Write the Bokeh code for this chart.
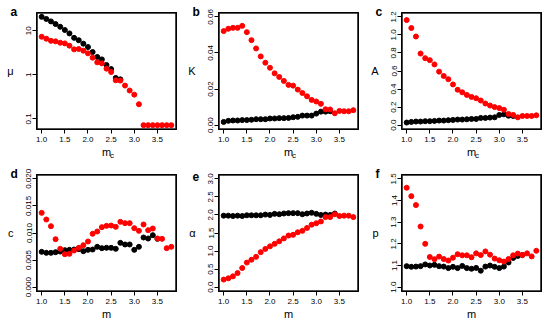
import math
from bokeh.plotting import figure
from bokeh.layouts import column, row
from bokeh.models import (Range1d, FixedTicker, PrintfTickFormatter,
                          LinearAxis, Title)
from bokeh.embed import file_html
from bokeh.resources import INLINE

# ---------------- data ----------------
M = [1.0, 1.1, 1.2, 1.3, 1.4, 1.5, 1.6, 1.7, 1.8, 1.9, 2.0, 2.1, 2.2, 2.3, 2.4,
     2.5, 2.6, 2.7, 2.8, 2.9, 3.0, 3.1, 3.2, 3.3, 3.4, 3.5, 3.6, 3.7, 3.8]

mu_black = [20.7, 18.5, 16.3, 14.2, 12.3, 10.4, 8.7, 6.9, 6.1, 5.1, 4.27, 3.29,
            2.54, 2.24, 1.67, 1.35, 0.85, 0.79]
mu_red = [7.3, 6.6, 5.9, 5.75, 5.35, 5.17, 4.58, 3.78, 3.85, 3.53, 3.07, 2.45,
          1.92, 1.82, 1.38, 1.16, 0.75, 0.74, 0.57, 0.44, 0.355, 0.215,
          0.072, 0.072, 0.072, 0.072, 0.072, 0.072, 0.072]

K_black = [0.0018, 0.0024, 0.0026, 0.0026, 0.0028, 0.0028, 0.0030, 0.0033, 0.0033,
           0.0033, 0.0037, 0.0037, 0.0039, 0.0039, 0.0040, 0.0044, 0.0046, 0.0053,
           0.0053, 0.0053, 0.0064, 0.0075, 0.0075, 0.0077]
K_red = [0.0521, 0.0534, 0.0539, 0.0539, 0.0550, 0.0515, 0.0471, 0.0425, 0.0381,
         0.0346, 0.0318, 0.0287, 0.0267, 0.0245, 0.0223, 0.0219, 0.0197, 0.0178,
         0.0160, 0.0140, 0.0131, 0.0118, 0.0088, 0.0087, 0.0066, 0.0079, 0.0077,
         0.0077, 0.0083]

A_black = [0.029, 0.036, 0.040, 0.040, 0.044, 0.044, 0.047, 0.051, 0.051, 0.055,
           0.058, 0.062, 0.062, 0.065, 0.069, 0.069, 0.080, 0.080, 0.084, 0.087,
           0.113, 0.120, 0.105, 0.102]
A_red = [1.164, 1.076, 0.982, 0.793, 0.742, 0.720, 0.673, 0.593, 0.545, 0.509,
         0.451, 0.393, 0.364, 0.335, 0.313, 0.298, 0.273, 0.240, 0.218, 0.200,
         0.189, 0.171, 0.124, 0.113, 0.087, 0.102, 0.102, 0.102, 0.109]

c_black = [0.00652, 0.00634, 0.00634, 0.00646, 0.00658, 0.00683, 0.00689, 0.00695,
           0.00702, 0.00665, 0.00689, 0.00695, 0.00745, 0.00720, 0.00726, 0.00726,
           0.00708, 0.00818, 0.00788, 0.00788, 0.00689, 0.00745, 0.00917, 0.00898,
           0.00960, 0.00892]
c_red = [0.01372, 0.01249, 0.01126, 0.00886, 0.00708, 0.00609, 0.00615, 0.00677,
         0.00726, 0.00775, 0.00843, 0.00985, 0.01028, 0.01108, 0.01132, 0.01138,
         0.01114, 0.01206, 0.01182, 0.01182, 0.01089, 0.01040, 0.01157, 0.01052,
         0.01083, 0.00898, 0.00892, 0.00720, 0.00745]

alpha_black = [1.98, 1.98, 1.97, 1.98, 1.97, 1.99, 1.99, 1.99, 1.99, 2.01, 2.00,
               2.03, 2.02, 2.04, 2.05, 2.05, 2.05, 2.02, 2.04, 2.06, 2.03, 2.00,
               2.01, 2.00, 2.04]
alpha_red = [0.21, 0.245, 0.30, 0.39, 0.53, 0.68, 0.76, 0.84, 0.97, 1.06, 1.13,
             1.20, 1.27, 1.35, 1.43, 1.45, 1.52, 1.56, 1.64, 1.73, 1.77, 1.82,
             1.94, 1.94, 2.02, 1.97, 1.98, 1.98, 1.94]

p_black = [1.097, 1.094, 1.095, 1.097, 1.105, 1.100, 1.103, 1.097, 1.095, 1.088,
           1.094, 1.088, 1.098, 1.088, 1.085, 1.089, 1.076, 1.095, 1.100, 1.094,
           1.088, 1.095, 1.114, 1.135, 1.144, 1.148]
p_red = [1.459, 1.420, 1.379, 1.280, 1.200, 1.139, 1.129, 1.141, 1.130, 1.123,
         1.136, 1.152, 1.147, 1.147, 1.138, 1.156, 1.148, 1.165, 1.150, 1.132,
         1.124, 1.118, 1.130, 1.147, 1.155, 1.148, 1.156, 1.142, 1.168]

X_TICKS = [1.0, 1.5, 2.0, 2.5, 3.0, 3.5]

# ---------------- layout constants ----------------
FONT = "Liberation Sans"
COL_W = [183, 183, 182]
COL_L = [36, 35, 35]
COL_R = [7, 8, 7]
ROW_H = [160, 162]
ROW_T = [12, 14]
ROW_B = [31, 31]
FRAME_W = 140


def r_range(vals):
    lo, hi = min(vals), max(vals)
    d = (hi - lo) * 0.04
    return lo - d, hi + d


X0, X1 = r_range(M)


def style_axis(ax):
    ax.axis_line_color = "black"
    ax.axis_line_width = 1
    ax.major_tick_in = 0
    ax.major_tick_out = 4
    ax.major_tick_line_color = "black"
    ax.major_tick_line_width = 1
    ax.minor_tick_line_color = None
    ax.major_label_text_font = FONT
    ax.major_label_text_font_size = "8px"
    ax.major_label_text_color = "black"
    ax.axis_label_text_font = FONT
    ax.axis_label_text_font_size = "11px"
    ax.axis_label_text_font_style = "normal"
    ax.axis_label_text_color = "black"


def box_axis(p, side):
    ax = LinearAxis(ticker=FixedTicker(ticks=[]), axis_line_color="black",
                    major_tick_out=0, major_tick_in=0, minor_tick_out=0,
                    minor_tick_in=0, major_label_standoff=0,
                    major_label_text_font_size="0px")
    p.add_layout(ax, side)


def panel(ci, ri, letter, ylab, sub, black, red, yr, yticks, yfmt=None,
          yover=None, log=False):
    if log:
        lo, hi = r_range([math.log10(v) for v in black + red])
        yrng = Range1d(10 ** lo, 10 ** hi)
    else:
        yrng = Range1d(*yr)
    p = figure(width=COL_W[ci], height=ROW_H[ri],
               x_range=Range1d(X0, X1), y_range=yrng,
               y_axis_type="log" if log else "linear",
               toolbar_location=None, output_backend="svg",
               min_border_left=COL_L[ci], min_border_right=COL_R[ci],
               min_border_top=ROW_T[ri], min_border_bottom=ROW_B[ri])
    p.background_fill_color = "white"
    p.border_fill_color = "white"
    p.outline_line_color = "black"
    p.grid.visible = False
    xa, ya = p.xaxis[0], p.yaxis[0]
    style_axis(xa)
    style_axis(ya)
    xa.ticker = FixedTicker(ticks=X_TICKS)
    xa.formatter = PrintfTickFormatter(format="%.1f")
    xa.major_label_standoff = 3
    if not sub:
        xa.axis_label = "m"
        xa.axis_label_standoff = 1
    ya.ticker = FixedTicker(ticks=yticks)
    if yfmt:
        ya.formatter = PrintfTickFormatter(format=yfmt)
    if yover:
        ya.major_label_overrides = yover
    ya.major_label_orientation = "vertical"
    ya.major_label_standoff = 1
    ya.axis_label = ylab
    ya.axis_label_standoff = 10
    if "axis_label_orientation" in ya.properties():
        ya.axis_label_orientation = "horizontal"
    box_axis(p, "above")
    box_axis(p, "right")

    # plot-region box, drawn from the range limits
    p.quad(left=[X0], right=[X1], bottom=[yrng.start], top=[yrng.end],
           fill_color=None, line_color="#1a1a1a", line_width=2.6)

    p.scatter(M[:len(black)], black, size=5, color="black", marker="circle")
    p.scatter(M[:len(red)], red, size=5, color="red", marker="circle")

    t = Title(text=letter, align="left", offset=-26, standoff=-12,
              text_font=FONT, text_font_size="12px", text_font_style="bold",
              text_color="black", vertical_align="bottom")
    p.add_layout(t, "above")
    if sub:
        tm = Title(text="m", align="center", standoff=-2,
                   text_font=FONT, text_font_size="11px",
                   text_font_style="normal", text_color="black",
                   vertical_align="bottom")
        p.add_layout(tm, "below")
        tc = Title(text="c", align="left", offset=FRAME_W / 2 + 3.5,
                   standoff=-10.8, text_font=FONT, text_font_size="8px",
                   text_font_style="normal", text_color="black",
                   vertical_align="top")
        p.add_layout(tc, "below")
    return p


pa = panel(0, 0, "a", "μ", True, mu_black, mu_red, None, [0.1, 1, 10],
           yover={0.1: "0.1", 1: "1", 10: "10"}, log=True)
pb = panel(1, 0, "b", "K", True, K_black, K_red, (-0.0024, 0.0624),
           [0.0, 0.02, 0.04, 0.06], yfmt="%.2f")
pc = panel(2, 0, "c", "A", True, A_black, A_red, (-0.048, 1.248),
           [0.0, 0.2, 0.4, 0.6, 0.8, 1.0, 1.2], yfmt="%.1f")
pd = panel(0, 1, "d", "c", False, c_black, c_red, (-0.0008, 0.0208),
           [0.0, 0.005, 0.01, 0.015, 0.02], yfmt="%.3f")
pe = panel(1, 1, "e", "α", False, alpha_black, alpha_red, (-0.12, 3.12),
           [0.0, 0.5, 1.0, 1.5, 2.0, 2.5, 3.0], yfmt="%.1f")
pf = panel(2, 1, "f", "p", False, p_black, p_red, (0.98, 1.52),
           [1.0, 1.1, 1.2, 1.3, 1.4, 1.5], yfmt="%.1f")

layout = column(row(pa, pb, pc), row(pd, pe, pf))
open("out.html", "w").write(file_html(layout, INLINE))
